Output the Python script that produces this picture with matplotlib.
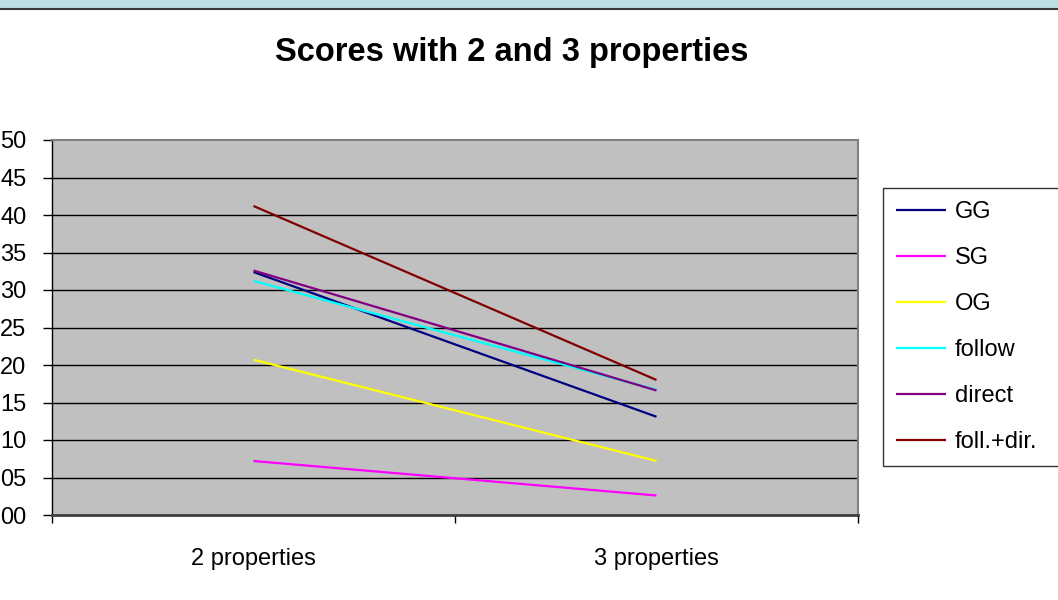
import matplotlib
matplotlib.use("Agg")
import matplotlib.pyplot as plt
from matplotlib.patches import Rectangle
from matplotlib.lines import Line2D

plt.rcParams['font.family'] = ['Liberation Sans', 'DejaVu Sans']

categories = ["2 properties", "3 properties"]
series_names = ["GG", "SG", "OG", "follow", "direct", "foll.+dir."]
GG = [0.324, 0.131]
SG = [0.072, 0.026]
OG = [0.207, 0.072]
follow = [0.312, 0.167]
direct = [0.326, 0.166]
foll_dir = [0.412, 0.180]
y_ticks = [0.00, 0.05, 0.10, 0.15, 0.20, 0.25, 0.30, 0.35, 0.40, 0.45, 0.50]
# the reference shows only the last two digits of each label
y_tick_labels = ["00", "05", "10", "15", "20", "25", "30", "35", "40", "45", "50"]
title = "Scores with 2 and 3 properties"

colors = ["#000080", "#FF00FF", "#FFFF00", "#00FFFF", "#800080", "#800000"]
values = [GG, SG, OG, follow, direct, foll_dir]

W, H = 1058, 600
fig = plt.figure(figsize=(W / 100, H / 100), dpi=100)
fig.patch.set_facecolor("white")

# top band
fig.patches.append(Rectangle((0, 1 - 7.5 / H), 1, 7.5 / H, transform=fig.transFigure,
                             facecolor="#BCE0E3", edgecolor="none", zorder=0))
fig.add_artist(Line2D([0, 1], [1 - 8.5 / H, 1 - 8.5 / H], transform=fig.transFigure,
                      color="#3a3a3a", lw=1.5))

left, right, top, bottom = 52, 858, 140, 515
ax = fig.add_axes([left / W, 1 - bottom / H, (right - left) / W, (bottom - top) / H])
ax.set_facecolor("#C0C0C0")

xpos = [0.5, 1.5]
for name, vals, c in zip(series_names, values, colors):
    ax.plot(xpos, vals, color=c, lw=1.6, label=name, solid_capstyle="butt", zorder=3)

ax.set_xlim(0, 2)
ax.set_ylim(0, 0.5)
ax.set_yticks(y_ticks)
ax.set_yticklabels(y_tick_labels, fontsize=17)
for yv in y_ticks[1:-1]:
    ax.axhline(yv, color="black", lw=1, zorder=1)

ax.set_xticks([0, 1, 2])
ax.set_xticklabels([])
ax.set_xticks(xpos, minor=True)
ax.set_xticklabels(categories, minor=True, fontsize=17)
ax.tick_params(axis="x", which="minor", length=0, pad=24)
ax.tick_params(axis="x", which="major", length=6, direction="out", color="black", width=1)
ax.tick_params(axis="y", length=6.5, direction="out", color="black", width=1, pad=12)

ax.spines["left"].set_color("black")
ax.spines["left"].set_linewidth(1)
ax.spines["bottom"].set_color("#404040")
ax.spines["bottom"].set_linewidth(2)
ax.spines["top"].set_color("#808080")
ax.spines["top"].set_linewidth(1.5)
ax.spines["right"].set_color("#808080")
ax.spines["right"].set_linewidth(1.5)

fig.text(512 / W, 1 - 53 / H, title, ha="center", va="center", fontsize=23.5, fontweight="bold")

leg = fig.legend(loc="upper left",
                 bbox_to_anchor=(883 / W, 1 - 473 / H, 190 / W, 285 / H),
                 mode="expand", fontsize=17,
                 frameon=True, fancybox=False, edgecolor="black", facecolor="white",
                 handlelength=2.1, handletextpad=0.4, labelspacing=1.02, borderpad=0.55,
                 borderaxespad=0)
leg.get_frame().set_linewidth(1)
for line in leg.get_lines():
    line.set_linewidth(1.6)

fig.savefig("out.png", dpi=100)
